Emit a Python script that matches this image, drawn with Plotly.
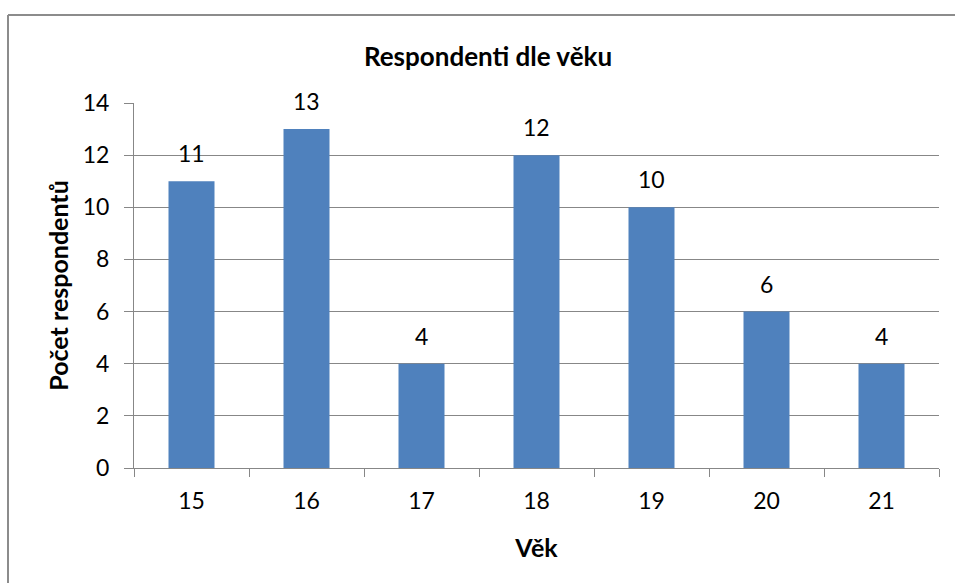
import plotly.graph_objects as go

ages = ["15", "16", "17", "18", "19", "20", "21"]
counts = [11, 13, 4, 12, 10, 6, 4]
y_ticks = [0, 2, 4, 6, 8, 10, 12, 14]
title_text = "Respondenti dle věku"
x_title = "Věk"
y_title = "Počet respondentů"

FONT = "Lato, Carlito, Calibri, sans-serif"
GRID = "#878787"
BAR = "#4F81BD"
BORDER = "#8C8C8C"

W, H = 955, 583
L, R, T, B = 134, 16, 103, 115
PW, PH = W - L - R, H - T - B

fig = go.Figure()
fig.add_trace(go.Bar(x=ages, y=counts, marker=dict(color=BAR, line=dict(width=0)),
                     hoverinfo="x+y"))

for i, c in enumerate(counts):
    fig.add_annotation(x=i, y=c, xref="x", yref="y", text=str(c), showarrow=False,
                       yanchor="bottom", yshift=12,
                       font=dict(family=FONT, size=23, color="black"))

fig.update_layout(
    width=W, height=H,
    margin=dict(l=L, r=R, t=T, b=B, pad=0),
    paper_bgcolor="white", plot_bgcolor="white",
    bargap=0.6,
    showlegend=False,
    font=dict(family=FONT, size=23, color="black"),
    title=dict(text=title_text, x=488 / W, xref="container", xanchor="center",
               y=1 - 57 / H, yref="container", yanchor="middle",
               font=dict(family=FONT, size=26, color="black", weight="bold")),
    xaxis=dict(type="category", range=[-0.5, len(ages) - 0.5], showgrid=False,
               showline=True, linecolor=GRID, linewidth=1,
               ticks="outside", tickson="boundaries", ticklen=8, tickcolor=GRID, tickwidth=1,
               ticklabelstandoff=12,
               tickfont=dict(family=FONT, size=23, color="black"),
               title=dict(text=x_title, standoff=26,
                          font=dict(family=FONT, size=25, color="black", weight="bold"))),
    yaxis=dict(range=[0, 14], tickvals=y_ticks, showgrid=True, gridcolor=GRID, gridwidth=1,
               showline=True, linecolor=GRID, linewidth=1, zeroline=False,
               ticks="outside", ticklen=9, tickcolor=GRID, tickwidth=1,
               ticklabelstandoff=10,
               tickfont=dict(family=FONT, size=23, color="black"),
               title=dict(text=y_title, standoff=6,
                          font=dict(family=FONT, size=25, color="black", weight="bold"))),
)

# outer chart border: only its top and left edges are visible in the frame
bx0 = (8 - L) / PW
bx1 = (W + 50 - L) / PW
by_top = (H - B - 15) / PH
by_bot = (H - B - (H + 50)) / PH
fig.add_shape(type="line", xref="paper", yref="paper", layer="below",
              x0=bx0, x1=bx1, y0=by_top, y1=by_top,
              line=dict(color=BORDER, width=2))
fig.add_shape(type="line", xref="paper", yref="paper", layer="below",
              x0=bx0, x1=bx0, y0=by_top, y1=by_bot,
              line=dict(color=BORDER, width=2))

fig.write_html(
    "out.html",
    config=dict(displayModeBar=False),
    post_script="document.body.style.margin='0';document.body.style.overflow='hidden';",
)
